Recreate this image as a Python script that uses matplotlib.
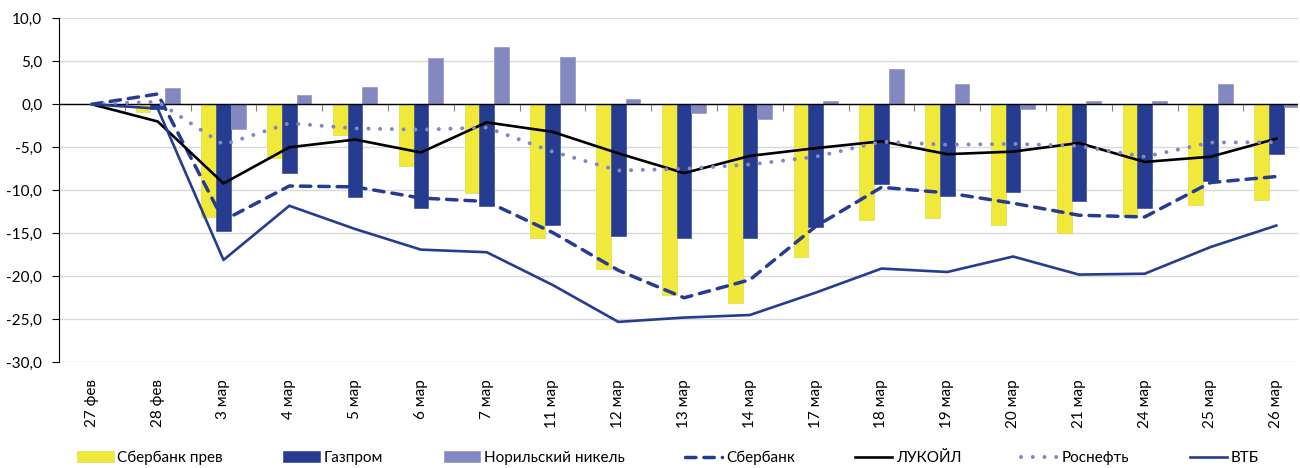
import numpy as np
import matplotlib
matplotlib.use('Agg')
import matplotlib.pyplot as plt

plt.rcParams['font.family'] = ['Lato', 'DejaVu Sans']
plt.rcParams['font.size'] = 10

# dates and daily change, %
dates = ['27 фев', '28 фев', '3 мар', '4 мар', '5 мар', '6 мар', '7 мар', '11 мар', '12 мар',
         '13 мар', '14 мар', '17 мар', '18 мар', '19 мар', '20 мар', '21 мар', '24 мар',
         '25 мар', '26 мар']

sber_pref = [0, -0.9, -13.1, -6.2, -3.6, -7.2, -10.3, -15.6, -19.2, -22.2, -23.1, -17.7,
             -13.5, -13.2, -14.0, -15.0, -13.0, -11.7, -11.1]
gazprom = [0, -0.5, -14.7, -8.0, -10.8, -12.1, -11.8, -14.0, -15.3, -15.5, -15.6, -14.3,
           -9.3, -10.7, -10.2, -11.3, -12.0, -8.9, -5.8]
nornikel = [0, 1.9, -2.9, 1.1, 2.0, 5.35, 6.7, 5.5, 0.6, -1.0, -1.7, 0.4,
            4.15, 2.4, -0.5, 0.4, 0.4, 2.4, -0.3]
sber = [0, 1.2, -13.5, -9.5, -9.6, -10.9, -11.3, -14.9, -19.3, -22.5, -20.4, -14.2,
        -9.65, -10.3, -11.5, -12.9, -13.1, -9.1, -8.4]
lukoil = [0, -2.0, -9.2, -5.0, -4.1, -5.6, -2.1, -3.2, -5.7, -8.0, -6.0, -5.1,
          -4.3, -5.8, -5.5, -4.5, -6.7, -6.1, -4.0]
rosneft = [0, 0.3, -4.7, -2.2, -2.8, -2.95, -2.7, -5.5, -7.7, -7.5, -7.0, -6.1,
           -4.35, -4.7, -4.6, -4.85, -6.1, -4.45, -4.4]
vtb = [0, -0.5, -18.1, -11.8, -14.5, -16.9, -17.2, -21.0, -25.3, -24.8, -24.5, -21.9,
       -19.1, -19.5, -17.7, -19.8, -19.7, -16.6, -14.1]

yellow = '#F0E93A'
dark_blue = '#253C91'
lilac = '#8389C0'

fig = plt.figure(figsize=(13, 4.68), dpi=100)
ax = fig.add_axes([59 / 1300, 1 - 362.3 / 468, 1239 / 1300, 344 / 468])

x = np.arange(len(dates))
w = 0.223
b1 = ax.bar(x - w, sber_pref, w, color=yellow, edgecolor='#E3DA4A', linewidth=0.5, zorder=2, label='Сбербанк прев')
b2 = ax.bar(x, gazprom, w, color=dark_blue, edgecolor='#3A4E9C', linewidth=0.5, zorder=2, label='Газпром')
b3 = ax.bar(x + w, nornikel, w, color=lilac, edgecolor='#9096C8', linewidth=0.5, zorder=2, label='Норильский никель')

ax.axhline(0, color='black', lw=1, zorder=3)

l1, = ax.plot(x, sber, color=dark_blue, lw=2.5, linestyle=(0, (3.0, 2.3)),
              dash_capstyle='round', zorder=4, label='Сбербанк')
l2, = ax.plot(x, lukoil, color='black', lw=1.9, zorder=4, label='ЛУКОЙЛ')
l3, = ax.plot(x, rosneft, color=lilac, lw=2.9, linestyle=(0, (0.01, 2.9)),
              dash_capstyle='round', zorder=4, label='Роснефть')
l4, = ax.plot(x, vtb, color=dark_blue, lw=1.9, zorder=5, label='ВТБ')

ax.set_xlim(-0.5, -0.5 + 1239 / 65.8)
ax.set_ylim(-30, 10)
yt = np.arange(-30, 11, 5)
ax.set_yticks(yt)
ax.set_yticklabels([f'{v:.1f}'.replace('.', ',') for v in yt], fontsize=11)
ax.tick_params(axis='y', length=5, pad=7, color='black')
ax.set_xticks(x)
ax.set_xticklabels(dates, rotation=90, fontsize=11)
ax.tick_params(axis='x', length=0, pad=12)
ax.grid(axis='y', color='#D9D9D9', lw=1, zorder=0)
ax.set_axisbelow(True)
for s in ['top', 'right', 'bottom']:
    ax.spines[s].set_visible(False)
ax.spines['left'].set_color('black')

# tick marks on the zero line between dates
sec = ax.secondary_xaxis(0.75)
sec.set_xticks(np.arange(-0.5, len(dates), 1))
sec.tick_params(direction='in', length=5, color='#808080', labeltop=False, labelbottom=False)
for s in sec.spines.values():
    s.set_visible(False)

fig.legend(handles=[b1, b2, b3, l1, l2, l3, l4], ncol=7, loc='center left',
           bbox_to_anchor=(77 / 1300, 1 - 458 / 468), frameon=False, fontsize=11,
           borderpad=0, borderaxespad=0, handlelength=2.4, handleheight=0.7,
           handletextpad=0.25, columnspacing=3.95)

fig.savefig('out.png', dpi=100)
